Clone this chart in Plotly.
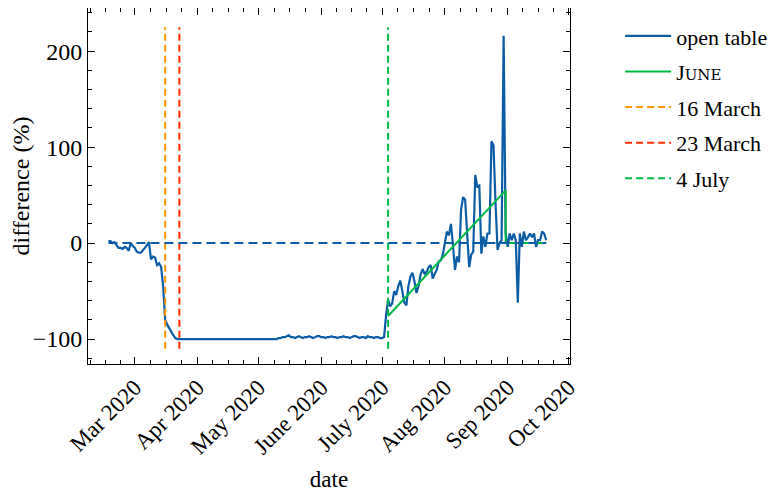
import pandas as pd
import plotly.graph_objects as go

# ---- data ----
start_date = "2020-02-17"
pre_lockdown = [2, 2, 0, 1, -2, -5, -5, -6, -4, -5, -8, 0, -3,
                -5, -9, -10, -10, -8, -5, -2, 1, -17, -14, -15, -23, -21,
                -25, -45, -80, -85, -89, -93, -96, -99]
lockdown = [-100, -100, -100, -100, -100, -100, -100, -100, -100, -100,
            -100, -100, -100, -100, -100, -100, -100, -100, -100, -100,
            -100, -100, -100, -100, -100, -100, -100, -100, -100, -100,
            -100, -100, -100, -100, -100, -100, -100, -100, -100, -100,
            -100, -100, -100, -100, -100, -100, -100, -100, -100, -100,
            -99, -99, -98, -98, -97, -96, -98, -98, -99, -98,
            -97, -98, -99, -98, -98, -97, -98, -99, -98, -97,
            -97, -98, -98, -99, -98, -98, -97, -98, -98, -99,
            -98, -98, -97, -98, -98, -99, -98, -97, -97, -98,
            -99, -98, -98, -99, -97, -98, -98, -99, -98, -98,
            -99]
reopening = [-99, -98, -75, -59, -66, -63, -50, -54, -45, -39,
             -50, -62, -65, -45, -35, -31, -40, -52, -45, -33,
             -27, -32, -30, -25, -23, -37, -32, -28, -19, -18,
             -12, 0, 12, 8, 20, -2, -28, -14, -20, 35,
             48, 45, 5, -25, -12, -9, 71, 59, 60, -11,
             7, -4, 10, 10, 106, 102, 42, -7, 0, 3,
             216, 10, -4, 10, 3, 10, 3, -62, 10, -4,
             12, 3, 6, 10, 6, 10, -4, 3, 3, 12,
             10, 3]
open_table = pre_lockdown + lockdown + reopening
dates = pd.date_range(start_date, periods=len(open_table), freq="D")

june_dates = ["2020-07-04", "2020-08-31", "2020-08-31", "2020-09-20"]
june_values = [-76, 55, 0, 0]

event_dates = ["2020-03-16", "2020-03-23", "2020-07-04"]
event_labels = ["16 March", "23 March", "4 July"]
event_colors = ["#FF9500", "#FF2C00", "#00B945"]
vline_span = [-110, 225]

month_ticks = ["2020-03-01", "2020-04-01", "2020-05-01", "2020-06-01",
               "2020-07-01", "2020-08-01", "2020-09-01", "2020-10-01"]
month_labels = ["Mar 2020", "Apr 2020", "May 2020", "June 2020",
                "July 2020", "Aug 2020", "Sep 2020", "Oct 2020"]

BLUE = "#0C5DA5"
GREEN = "#00B945"
FONT = "Liberation Serif"

fig = go.Figure()
fig.add_trace(go.Scatter(x=dates, y=open_table, mode="lines",
                         name="open table\u00a0",
                         line=dict(color=BLUE, width=2.2), legendgroup="a"))
fig.add_trace(go.Scatter(x=june_dates, y=june_values, mode="lines",
                         name="J<span style='font-size:15px;font-family:DejaVu Serif'>UNE</span>",
                         line=dict(color=GREEN, width=2), legendgroup="b"))
for i, (d, lab, c) in enumerate(zip(event_dates, event_labels, event_colors)):
    fig.add_trace(go.Scatter(x=[d, d], y=vline_span, mode="lines", name=lab,
                             line=dict(color=c, width=2, dash="7px,4px"),
                             legendgroup="c%d" % i))
# zero reference line (not in legend)
fig.add_trace(go.Scatter(x=[dates[0], dates[-1]], y=[0, 0], mode="lines",
                         line=dict(color=BLUE, width=2, dash="9px,5px"),
                         showlegend=False))

# minor ticks: each month split in four
minor_vals = []
mstarts = pd.date_range("2020-02-01", "2020-11-01", freq="MS")
for a, b in zip(mstarts[:-1], mstarts[1:]):
    step = (b - a) / 4
    for k in (1, 2, 3):
        minor_vals.append(a + step * k)

axis_common = dict(showline=True, linecolor="black", linewidth=1, mirror="allticks",
                   ticks="inside", ticklen=7, tickwidth=1, tickcolor="black",
                   showgrid=False, zeroline=False)

fig.update_layout(
    width=772, height=484,
    margin=dict(l=80, r=210, t=0, b=128, autoexpand=False),
    paper_bgcolor="white", plot_bgcolor="white",
    font=dict(family=FONT, size=22, color="black"),
    legend=dict(x=1.104, y=0.98, xanchor="left", yanchor="top", itemwidth=46,
                font=dict(size=22), tracegroupgap=4, bgcolor="rgba(0,0,0,0)"),
    xaxis=dict(range=["2020-02-06 22:00", "2020-10-01 18:00"], type="date",
               tickmode="array", tickvals=month_ticks, ticktext=month_labels,
               tickangle=-45, tickfont=dict(size=23),
               minor=dict(tickmode="array", tickvals=minor_vals, ticks="inside",
                          ticklen=4, tickcolor="black"),
               title=dict(text="date", font=dict(size=23), standoff=16),
               **axis_common),
    yaxis=dict(range=[-126, 245], tickmode="array", tickvals=[-100, 0, 100, 200],
               ticktext=["\u2212100", "0", "100", "200"], tickfont=dict(size=24),
               minor=dict(dtick=20, ticks="inside", ticklen=4, tickcolor="black"),
               title=dict(text="difference (%)", font=dict(size=24), standoff=8),
               **axis_common),
)

fig.write_html("out.html")
